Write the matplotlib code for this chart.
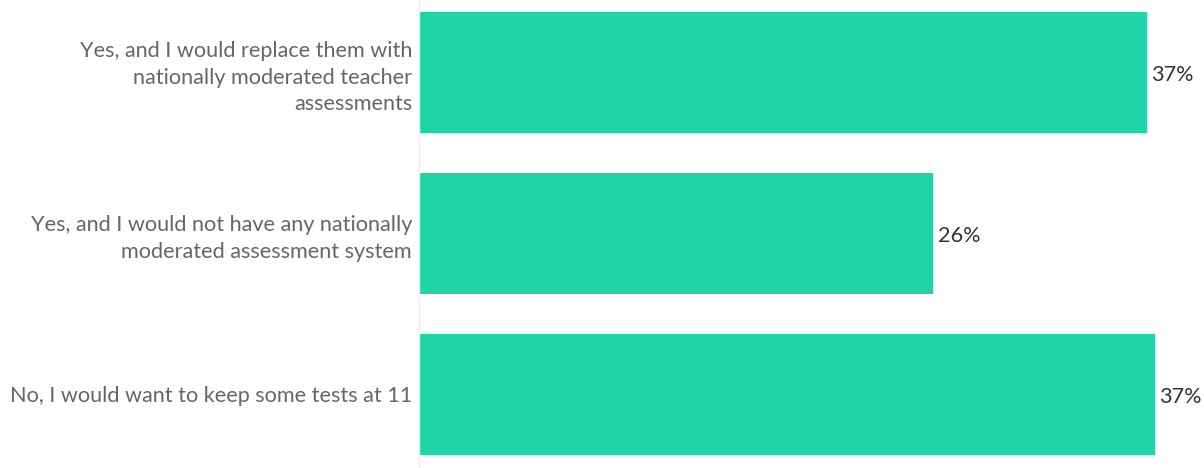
import matplotlib
matplotlib.use("Agg")
import matplotlib.pyplot as plt

categories = [
    "Yes, and I would replace them with\nnationally moderated teacher\nassessments",
    "Yes, and I would not have any nationally\nmoderated assessment system",
    "No, I would want to keep some tests at 11",
]
values = [36.8, 26.0, 37.2]
value_labels = ["37%", "26%", "37%"]

plt.rcParams['font.family'] = ['Lato', 'DejaVu Sans']

W, H = 1204, 468
fig = plt.figure(figsize=(W / 100, H / 100), dpi=100)
ax = fig.add_axes([419 / W, 0, 1 - 419 / W, 1])

ypos = list(range(len(categories)))
ax.barh(ypos, values, height=0.75, color="#20D4A8", zorder=2)
ax.set_ylim(2.457, -0.45)
ax.set_xlim(0, 39.7)

ax.set_yticks(ypos)
ax.set_yticklabels(categories, fontsize=15.6, color="#666666", linespacing=1.4)
ax.tick_params(axis="y", length=0, pad=5)
ax.set_xticks([])
for s in ["top", "right", "bottom"]:
    ax.spines[s].set_visible(False)
ax.spines["left"].set_color("#EEEEEE")
ax.spines["left"].set_linewidth(1)

for y, v, lab in zip(ypos, values, value_labels):
    ax.annotate(lab, xy=(v, y), xytext=(3.5, -1.5), textcoords="offset points",
                va="center", ha="left", fontsize=15.6, color="#333333")

fig.savefig("out.png", dpi=100)
